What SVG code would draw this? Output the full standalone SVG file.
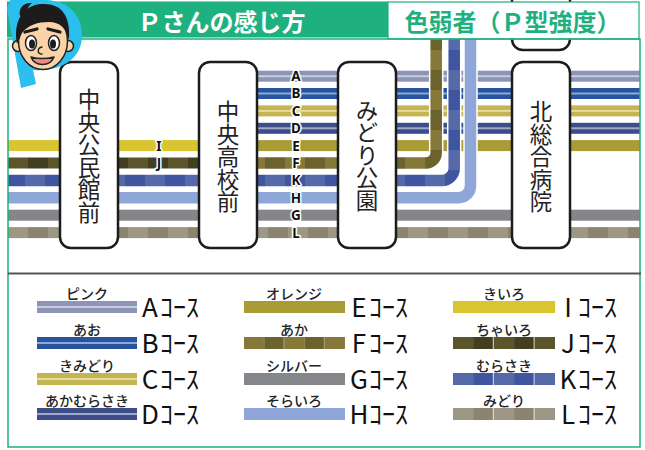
<svg xmlns="http://www.w3.org/2000/svg" width="645" height="450" viewBox="0 0 645 450">
  <style>
    .st rect { fill: #fff; stroke: #1c1c1c; stroke-width: 2.5; }
    .st text { font-family: "Noto Sans CJK JP", sans-serif; font-size: 22.5px; fill: #222; text-anchor: middle; writing-mode: vertical-rl; }
    .ln { fill: none; stroke-width: 11.5; }
    .halo { fill: none; stroke: #fff; stroke-width: 14.5; }
    .tag { font-family: "Noto Sans", "Liberation Sans", sans-serif; font-weight: 700; font-size: 13.5px; fill: #111; text-anchor: middle; stroke: #fff; stroke-width: 3; paint-order: stroke; stroke-linejoin: round; }
    .lbl { font-family: "Noto Sans CJK JP", sans-serif; font-size: 14px; font-weight: 500; fill: #222; text-anchor: middle; }
    .cs { font-family: "Noto Sans CJK JP", sans-serif; font-size: 26px; fill: #111; }
    .cs .k { text-anchor: middle; }
    .frame { fill: none; stroke: #1eb07e; stroke-width: 1.5; }
    .skin { fill: #fcd3a6; stroke: #222; stroke-width: 1.5; }
  </style>
  <defs>
    <!-- checkered fills for lines that turn a corner -->
    <pattern id="chkF" patternUnits="userSpaceOnUse" x="5" y="10" width="40" height="40">
      <rect width="40" height="40" fill="#857838"/>
      <rect width="20" height="20" fill="#6c622e"/>
      <rect x="20" y="20" width="20" height="20" fill="#6c622e"/>
    </pattern>
    <pattern id="chkK" patternUnits="userSpaceOnUse" x="5" y="10" width="40" height="40">
      <rect width="40" height="40" fill="#5669a8"/>
      <rect width="20" height="20" fill="#3f55a0"/>
      <rect x="20" y="20" width="20" height="20" fill="#3f55a0"/>
    </pattern>
    <!-- banded fills for straight lines -->
    <pattern id="bandJ" patternUnits="userSpaceOnUse" x="8" width="40" height="40">
      <rect width="40" height="40" fill="#5a552b"/>
      <rect x="20" width="20" height="40" fill="#423e20"/>
    </pattern>
    <pattern id="bandL" patternUnits="userSpaceOnUse" x="8" width="40" height="40">
      <rect width="40" height="40" fill="#9d9786"/>
      <rect x="20" width="20" height="40" fill="#8b846f"/>
    </pattern>
    <!-- legend swatch fills -->
    <pattern id="swF" width="0.4" height="1">
      <rect width="20" height="12" fill="#857838"/>
      <rect x="20" width="20" height="12" fill="#6c622e"/>
    </pattern>
    <pattern id="swJ" width="0.4" height="1">
      <rect width="20" height="12" fill="#5a552b"/>
      <rect x="20" width="20" height="12" fill="#423e20"/>
    </pattern>
    <pattern id="swK" width="0.4" height="1">
      <rect width="20" height="12" fill="#5669a8"/>
      <rect x="20" width="20" height="12" fill="#3f55a0"/>
    </pattern>
    <pattern id="swL" width="0.4" height="1">
      <rect width="20" height="12" fill="#9d9786"/>
      <rect x="20" width="20" height="12" fill="#8b846f"/>
    </pattern>
  </defs>

  <rect width="645" height="450" fill="#fff"/>

  <!-- route lines -->
  <g id="connectors">
    <!-- I, J run only on the west side -->
    <rect x="8" y="140.1" width="220" height="11" fill="#d9c531"/>
    <rect x="8" y="157.5" width="220" height="11" fill="url(#bandJ)"/>
    <!-- A-D: striped, E: solid -->
    <rect x="228" y="70.7" width="412" height="11" fill="#8d95b7"/>
    <rect x="228" y="75.2" width="412" height="2" fill="#c8cde0"/>
    <rect x="228" y="88" width="412" height="11" fill="#2754a0"/>
    <rect x="228" y="92.5" width="412" height="2" fill="#92a8d3"/>
    <rect x="228" y="105.4" width="412" height="11" fill="#c4b452"/>
    <rect x="228" y="109.9" width="412" height="2" fill="#e6dc9e"/>
    <rect x="228" y="122.8" width="412" height="11" fill="#3c4d87"/>
    <rect x="228" y="127.3" width="412" height="2" fill="#9ea8cb"/>
    <rect x="228" y="140.1" width="412" height="11" fill="#a99b36"/>
    <!-- G, L cross the whole map -->
    <rect x="8" y="209.7" width="632" height="11" fill="#858689"/>
    <rect x="8" y="227.1" width="632" height="11" fill="url(#bandL)"/>
    <!-- F, K, H turn north -->
    <path class="halo" d="M228,163 H426 A10.2,10.2 0 0 0 436.2,152.8 V39"/>
    <path class="ln" stroke="url(#chkF)" d="M228,163 H426 A10.2,10.2 0 0 0 436.2,152.8 V39"/>
    <path class="halo" d="M8,180.4 H442 A12.2,12.2 0 0 0 454.2,168.2 V39"/>
    <path class="ln" stroke="url(#chkK)" d="M8,180.4 H442 A12.2,12.2 0 0 0 454.2,168.2 V39"/>
    <path class="halo" d="M8,197.8 H458.5 A12,12 0 0 0 470.5,185.8 V39"/>
    <path class="ln" stroke="#8ea7d8" d="M8,197.8 H458.5 A12,12 0 0 0 470.5,185.8 V39"/>
    <!-- line letters -->
    <text class="tag" x="159" y="150.5">I</text>
    <text class="tag" x="159" y="167.9">J</text>
    <text class="tag" x="296" y="81.1">A</text>
    <text class="tag" x="296" y="98.4">B</text>
    <text class="tag" x="296" y="115.8">C</text>
    <text class="tag" x="296" y="133.2">D</text>
    <text class="tag" x="296" y="150.5">E</text>
    <text class="tag" x="296" y="167.9">F</text>
    <text class="tag" x="296" y="185.3">K</text>
    <text class="tag" x="296" y="202.7">H</text>
    <text class="tag" x="296" y="220.1">G</text>
    <text class="tag" x="296" y="237.5">L</text>
  </g>

  <!-- stations -->
  <g id="st-north" class="st">
    <rect x="512" y="-20" width="58" height="70" rx="11"/>
  </g>
  <g id="st-kouminkan" class="st">
    <rect x="60" y="62" width="58" height="186" rx="11"/>
    <text x="89" y="156">中央公民館前</text>
  </g>
  <g id="st-koukou" class="st">
    <rect x="199" y="62" width="58" height="186" rx="11"/>
    <text x="228" y="156.5">中央高校前</text>
  </g>
  <g id="st-midori" class="st">
    <rect x="338" y="62" width="58" height="186" rx="11"/>
    <text x="367" y="155">みどり公園</text>
  </g>
  <g id="st-byouin" class="st">
    <rect x="512" y="62" width="58" height="186" rx="11"/>
    <text x="541" y="156.5">北総合病院</text>
  </g>

  <!-- header -->
  <g id="header">
    <rect x="388" y="2" width="251" height="37" fill="#fff" stroke="#1eb07e" stroke-width="1.2"/>
    <rect x="7" y="1.5" width="381" height="36" fill="#1eb07e"/>
    <text x="221.5" y="31" font-family="Noto Sans CJK JP, sans-serif" font-size="24" font-weight="700" fill="#fff" text-anchor="middle">Ｐさんの感じ方</text>
    <text x="512.5" y="31" font-family="Noto Sans CJK JP, sans-serif" font-size="24" font-weight="700" fill="#1eb07e" text-anchor="middle">色弱者（Ｐ型強度）</text>
  </g>

  <!-- frame and divider -->
  <rect class="frame" x="8" y="39" width="632" height="408"/>
  <line x1="8" y1="273.5" x2="641" y2="273.5" stroke="#555" stroke-width="2"/>

  <!-- legend -->
  <g id="legend">
    <g id="lg-A">
      <text class="lbl" x="87" y="299">ピンク</text>
      <rect x="37" y="301" width="100" height="12" fill="#8d95b7"/><rect x="37" y="306" width="100" height="2" fill="#c8cde0"/>
      <text class="cs" y="317"><tspan class="k" x="150">A</tspan><tspan x="160">ｺｰｽ</tspan></text>
    </g>
    <g id="lg-B">
      <text class="lbl" x="87" y="335">あお</text>
      <rect x="37" y="337" width="100" height="12" fill="#2754a0"/><rect x="37" y="342" width="100" height="2" fill="#92a8d3"/>
      <text class="cs" y="353"><tspan class="k" x="150">B</tspan><tspan x="160">ｺｰｽ</tspan></text>
    </g>
    <g id="lg-C">
      <text class="lbl" x="87" y="371">きみどり</text>
      <rect x="37" y="373" width="100" height="12" fill="#c4b452"/><rect x="37" y="378" width="100" height="2" fill="#e6dc9e"/>
      <text class="cs" y="389"><tspan class="k" x="150">C</tspan><tspan x="160">ｺｰｽ</tspan></text>
    </g>
    <g id="lg-D">
      <text class="lbl" x="87" y="406">あかむらさき</text>
      <rect x="37" y="408" width="100" height="12" fill="#3c4d87"/><rect x="37" y="413" width="100" height="2" fill="#9ea8cb"/>
      <text class="cs" y="424"><tspan class="k" x="150">D</tspan><tspan x="160">ｺｰｽ</tspan></text>
    </g>

    <g id="lg-E">
      <text class="lbl" x="294" y="299">オレンジ</text>
      <rect x="244" y="301" width="101" height="12" fill="#a99b36"/>
      <text class="cs" y="317"><tspan class="k" x="359">E</tspan><tspan x="369">ｺｰｽ</tspan></text>
    </g>
    <g id="lg-F">
      <text class="lbl" x="294" y="335">あか</text>
      <rect x="244" y="337" width="101" height="12" fill="url(#swF)"/>
      <text class="cs" y="353"><tspan class="k" x="359">F</tspan><tspan x="369">ｺｰｽ</tspan></text>
    </g>
    <g id="lg-G">
      <text class="lbl" x="294" y="371">シルバー</text>
      <rect x="244" y="373" width="101" height="12" fill="#858689"/>
      <text class="cs" y="389"><tspan class="k" x="359">G</tspan><tspan x="369">ｺｰｽ</tspan></text>
    </g>
    <g id="lg-H">
      <text class="lbl" x="294" y="406">そらいろ</text>
      <rect x="244" y="408" width="101" height="12" fill="#8ea7d8"/>
      <text class="cs" y="424"><tspan class="k" x="359">H</tspan><tspan x="369">ｺｰｽ</tspan></text>
    </g>

    <g id="lg-I">
      <text class="lbl" x="504" y="299">きいろ</text>
      <rect x="453" y="301" width="102" height="12" fill="#d9c531"/>
      <text class="cs" y="317"><tspan class="k" x="568">I</tspan><tspan x="578">ｺｰｽ</tspan></text>
    </g>
    <g id="lg-J">
      <text class="lbl" x="504" y="335">ちゃいろ</text>
      <rect x="453" y="337" width="102" height="12" fill="url(#swJ)"/>
      <text class="cs" y="353"><tspan class="k" x="568">J</tspan><tspan x="578">ｺｰｽ</tspan></text>
    </g>
    <g id="lg-K">
      <text class="lbl" x="504" y="371">むらさき</text>
      <rect x="453" y="373" width="102" height="12" fill="url(#swK)"/>
      <text class="cs" y="389"><tspan class="k" x="568">K</tspan><tspan x="578">ｺｰｽ</tspan></text>
    </g>
    <g id="lg-L">
      <text class="lbl" x="504" y="406">みどり</text>
      <rect x="453" y="408" width="102" height="12" fill="url(#swL)"/>
      <text class="cs" y="424"><tspan class="k" x="568">L</tspan><tspan x="578">ｺｰｽ</tspan></text>
    </g>
  </g>

  <!-- character badge -->
  <g id="avatar">
    <path d="M7,9 L21,88 L36,84 L33,70 C62,72 82,58 82,36 C82,14 68,1 46,0 L10,0 Z" fill="#2bbfef"/>
    <circle class="skin" cx="18" cy="46" r="5.5"/>
    <circle class="skin" cx="68" cy="46" r="5.5"/>
    <ellipse class="skin" cx="43" cy="41" rx="24.5" ry="28.5"/>
    <path d="M17,44 C13,22 22,5 42,4 C60,3 71,14 69,40 C66,28 60,22 49,22 C38,22 28,25 22,33 C20,37 19,41 17,44 Z" fill="#1c1c1c"/>
    <path d="M20,16 C18,8 24,2 32,3 C28,6 26,10 26,14 Z" fill="#1c1c1c"/>
    <path d="M25,32 L37,29" stroke="#1c1c1c" stroke-width="3.2" stroke-linecap="round" fill="none"/>
    <path d="M48,29 L60,32" stroke="#1c1c1c" stroke-width="3.2" stroke-linecap="round" fill="none"/>
    <ellipse cx="31" cy="43" rx="5.5" ry="7.5" fill="#fff" stroke="#222" stroke-width="1.5"/>
    <ellipse cx="54" cy="43" rx="5.5" ry="7.5" fill="#fff" stroke="#222" stroke-width="1.5"/>
    <ellipse cx="32" cy="44" rx="3" ry="4.6" fill="#1c1c1c"/>
    <ellipse cx="53" cy="44" rx="3" ry="4.6" fill="#1c1c1c"/>
    <path d="M42,47 C37,48 37,54 42,54" fill="none" stroke="#222" stroke-width="1.4" stroke-linecap="round"/>
    <path d="M31,57 C35,67 50,67 54,57 C46,59 38,59 31,57 Z" fill="#ec8c86" stroke="#222" stroke-width="1.5" stroke-linejoin="round"/>
  </g>
</svg>
